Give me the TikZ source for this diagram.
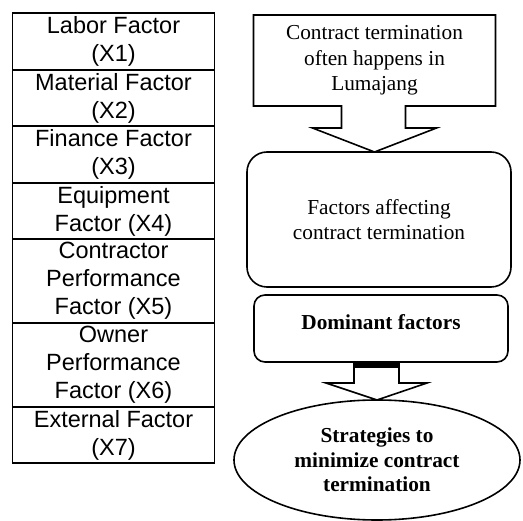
\documentclass[tikz,border=0pt]{standalone}
\usepackage{fontspec}
\usepackage{xcolor}
\setmainfont{Liberation Serif}
\newfontfamily\arialfont{Liberation Sans}
\usetikzlibrary{shapes.geometric,calc}

\tikzset{
  factor/.style={draw, line width=1.8pt, minimum width=202pt, inner sep=0pt, outer sep=0pt,
    align=center, font=\arialfont\fontsize{23.5}{28}\selectfont},
  flowbox/.style={draw, line width=1.6pt, inner sep=0pt, outer sep=0pt,
    align=center, font=\fontsize{21.3}{25.5}\selectfont},
  boldbox/.style={flowbox, font=\bfseries\fontsize{21.3}{24.5}\selectfont},
  blockarrow/.style={line width=1.6pt, line join=miter}
}

\begin{document}
\begin{tikzpicture}[x=1pt,y=-1pt]
  \useasboundingbox (0,0) rectangle (523,521);
  % factor table
  \foreach \row/\lbl/\ya/\yb in {x1/{Labor Factor\\(X1)}/13/70, x2/{Material Factor\\(X2)}/70/126,
      x3/{Finance Factor\\(X3)}/126/183, x4/{Equipment\\Factor (X4)}/183/239,
      x5/{Contractor\\Performance\\Factor (X5)}/239/323, x6/{Owner\\Performance\\Factor (X6)}/323/407,
      x7/{External Factor\\(X7)}/407/463}
    {\node[factor, minimum height={(\yb-\ya)*1pt}] (\row) at (113.5,{(\ya+\yb)/2}) {\lbl};}
  % flow boxes
  \node[flowbox, draw=none, minimum width=242pt, minimum height=91pt] (issue) at (374.5,60.5)
    {Contract termination\\often happens in\\Lumajang};
  \node[flowbox, rounded corners=20pt, minimum width=264pt, minimum height=135pt] (factors) at (379,219.5)
    {Factors affecting\\contract termination};
  \node[boldbox, rounded corners=11pt, minimum width=254pt, minimum height=67pt,
    text height=15pt, text depth=12pt] (dominant) at (381,328.5) {Dominant factors};
  \node[boldbox, ellipse, minimum width=286pt, minimum height=120pt] (strategy) at (377,460)
    {Strategies to\\minimize contract\\termination};
  % callout arrow
  \coordinate (a) at (issue.south);
  \draw[blockarrow] (issue.south west) -- (issue.north west) -- (issue.north east) -- (issue.south east)
    -- ($(a)+(31,0)$) -- ++(0,22) -- ++(31,0) -- (issue.south |- factors.north)
    -- ($(a)+(-62,22)$) -- ++(29,0) -- ($(a)+(-33,0)$) -- cycle;
  % lower arrow
  \coordinate (b) at (dominant.south -| strategy.north);
  \fill ($(b)+(-23,0)$) rectangle ($(b)+(22,6)$);
  \draw[blockarrow] ($(b)+(-23,0)$) -- ++(0,21) -- ++(-28,0) -- (strategy.north)
    -- ($(b)+(50,21)$) -- ++(-28,0) -- ($(b)+(22,0)$);
\end{tikzpicture}
\end{document}
